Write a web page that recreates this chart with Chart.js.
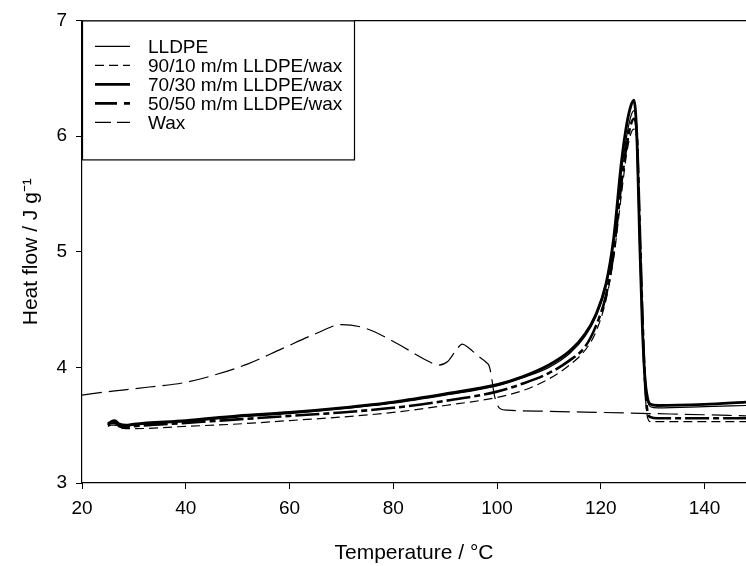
<!DOCTYPE html>
<html>
<head>
<meta charset="utf-8">
<script src="https://cdn.jsdelivr.net/npm/chart.js@4"></script>
<style>
  html, body { margin: 0; padding: 0; background: #fff; }
  #wrap { width: 746px; height: 566px; }
</style>
</head>
<body>
<div id="wrap"><canvas id="dsc" width="746" height="566"></canvas></div>
<script>
// temperature grid (°C) shared by the LLDPE / blend traces
const polyTemp = [25, 25.6, 26.3, 27.2, 28.5, 30, 40, 50, 60, 70, 80, 90, 100, 105, 110, 114, 117, 119, 121, 122.5, 124, 125, 125.8, 126.4, 127, 127.5, 128, 128.5, 129, 129.6, 131, 140, 148];

// heat flow (J/g)
const lldpe     = [3.50, 3.52, 3.53, 3.50, 3.49, 3.50, 3.53, 3.57, 3.60, 3.64, 3.69, 3.76, 3.84, 3.91, 4.00, 4.12, 4.27, 4.43, 4.70, 5.08, 5.70, 6.00, 6.17, 6.22, 6.00, 5.20, 4.45, 3.95, 3.72, 3.66, 3.65, 3.66, 3.67];
const blend9010 = [3.49, 3.50, 3.50, 3.48, 3.47, 3.47, 3.49, 3.51, 3.54, 3.57, 3.61, 3.67, 3.74, 3.80, 3.90, 4.02, 4.15, 4.30, 4.58, 4.95, 5.50, 5.85, 6.02, 6.06, 5.92, 5.30, 4.55, 3.85, 3.57, 3.53, 3.53, 3.53, 3.53];
const blend7030 = [3.51, 3.53, 3.54, 3.51, 3.50, 3.51, 3.54, 3.58, 3.61, 3.65, 3.70, 3.77, 3.85, 3.92, 4.02, 4.14, 4.29, 4.45, 4.72, 5.12, 5.78, 6.10, 6.26, 6.31, 5.95, 5.10, 4.38, 3.92, 3.74, 3.68, 3.67, 3.68, 3.70];
const blend5050 = [3.50, 3.52, 3.52, 3.49, 3.48, 3.49, 3.52, 3.55, 3.58, 3.61, 3.65, 3.71, 3.79, 3.86, 3.95, 4.06, 4.18, 4.35, 4.62, 5.00, 5.60, 5.92, 6.10, 6.15, 5.98, 5.25, 4.50, 3.90, 3.62, 3.57, 3.56, 3.56, 3.56];

// pure wax trace
const waxTemp = [20, 25, 33, 40, 46, 52, 58.5, 65, 70, 74.5, 81, 86, 88.8, 90.5, 92, 93.3, 94.5, 96.3, 98, 98.5, 98.9, 99.4, 100, 100.7, 102, 110, 120, 130, 140, 148];
const wax     = [3.76, 3.79, 3.83, 3.87, 3.94, 4.03, 4.16, 4.29, 4.37, 4.34, 4.20, 4.07, 4.02, 4.05, 4.14, 4.20, 4.17, 4.10, 4.04, 4.01, 3.93, 3.78, 3.68, 3.64, 3.63, 3.62, 3.61, 3.60, 3.59, 3.58];

const xTicks = [20, 40, 60, 80, 100, 120, 140];
const yTicks = [3, 4, 5, 6, 7];

const FONT = '"Liberation Sans", Arial, Helvetica, sans-serif';

function pairs(xs, ys) {
  return xs.map((x, i) => ({ x: x, y: ys[i] }));
}

function line(label, xs, ys, width, dash) {
  return {
    label: label,
    data: pairs(xs, ys),
    borderColor: '#000',
    borderWidth: width,
    borderDash: dash,
    pointRadius: 0,
    fill: false,
    cubicInterpolationMode: 'monotone'
  };
}

// boxed legend in the upper left corner of the plot
const boxLegend = {
  id: 'boxLegend',
  afterDraw(chart) {
    const { ctx, chartArea } = chart;
    const x0 = chartArea.left, y0 = chartArea.top;
    ctx.save();
    ctx.fillStyle = '#fff';
    ctx.fillRect(x0, y0, 272, 139);
    ctx.strokeStyle = '#000';
    ctx.lineWidth = 1.2;
    ctx.strokeRect(x0 + 0.5, y0 + 0.5, 272, 139);
    ctx.font = '19px ' + FONT;
    ctx.textBaseline = 'middle';
    chart.data.datasets.forEach((ds, i) => {
      const y = y0 + 26 + i * 19;
      ctx.lineWidth = ds.borderWidth;
      ctx.setLineDash(ds.legendDash || ds.borderDash || []);
      ctx.beginPath();
      ctx.moveTo(x0 + 13, y);
      ctx.lineTo(x0 + 48, y);
      ctx.stroke();
      ctx.setLineDash([]);
      ctx.fillStyle = '#000';
      ctx.fillText(ds.label, x0 + 66, y + 1);
    });
    ctx.restore();
  }
};

document.addEventListener('DOMContentLoaded', function() {
  const ctx = document.getElementById('dsc').getContext('2d');

  const data = {
    datasets: [
      line('LLDPE', polyTemp, lldpe, 1.2, []),
      line('90/10 m/m LLDPE/wax', polyTemp, blend9010, 1.2, [9, 5]),
      line('70/30 m/m LLDPE/wax', polyTemp, blend7030, 2.8, []),
      line('50/50 m/m LLDPE/wax', polyTemp, blend5050, 2.6, [24, 4, 6, 4]),
      line('Wax', waxTemp, wax, 1.2, [20, 7])
    ]
  };
  data.datasets[3].legendDash = [22, 7, 6, 100];
  data.datasets[4].legendDash = [16, 6];

  const options = {
    responsive: false,
    animation: false,
    devicePixelRatio: 1,
    layout: { padding: 0 },
    plugins: {
      legend: { display: false },
      tooltip: { enabled: false }
    },
    scales: {
      x: {
        type: 'linear',
        position: 'bottom',
        min: 20,
        max: 148,
        afterBuildTicks: s => { s.ticks = xTicks.map(v => ({ value: v })); },
        afterFit: s => { s.height = 83; },
        ticks: { color: '#000', font: { family: FONT, size: 19 }, padding: 8, maxRotation: 0 },
        grid: { drawOnChartArea: false, drawTicks: true, tickLength: 6, tickColor: '#000' },
        border: { display: true, color: '#000', width: 1.2 },
        title: { display: true, text: 'Temperature / °C', color: '#000', font: { family: FONT, size: 21 }, padding: { top: 2, bottom: 0 } }
      },
      xTop: {
        type: 'linear',
        position: 'top',
        min: 20,
        max: 148,
        afterFit: s => { s.height = 15; },
        ticks: { display: false },
        grid: { display: false, drawTicks: false },
        border: { display: true, color: '#000', width: 1.2 }
      },
      y: {
        type: 'linear',
        position: 'left',
        min: 3,
        max: 7,
        afterBuildTicks: s => { s.ticks = yTicks.map(v => ({ value: v })); },
        afterFit: s => { s.width = 82; },
        ticks: { color: '#000', font: { family: FONT, size: 19 }, padding: 9 },
        grid: { drawOnChartArea: false, drawTicks: true, tickLength: 6, tickColor: '#000' },
        border: { display: true, color: '#000', width: 1.2 },
        title: { display: true, text: 'Heat flow / J g⁻¹', color: '#000', font: { family: FONT, size: 21 }, padding: { top: 19, bottom: 0 } }
      }
    }
  };

  new Chart(ctx, { type: 'line', data: data, options: options, plugins: [boxLegend] });
});
</script>
</body>
</html>
